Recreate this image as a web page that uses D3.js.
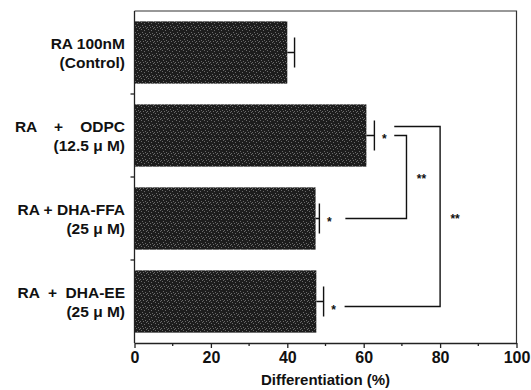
<!DOCTYPE html>
<meta charset="utf-8">
<html>
<head>
<script src="https://cdn.jsdelivr.net/npm/d3@7"></script>
<style>
body { margin:0; background:#fff; }
text { font-family:"Liberation Sans", Arial, Helvetica, sans-serif; font-weight:bold; fill:#111; }
.x-axis text { font-size:16px; }
.x-axis path, .x-axis line, .y-axis line { stroke:#222; stroke-width:1.3; }
.frame { fill:none; stroke:#333; stroke-width:1.2; }
.err, .bracket { fill:none; stroke:#111; stroke-width:1.4; }
.cat { font-size:15.5px; white-space:pre; }
.star { font-size:12px; }
</style>
</head>
<body>
<script>

// data
var groups = ["control", "odpc", "ffa", "ee"];
var line1 = ["RA 100nM", "RA    +    ODPC", "RA + DHA-FFA", "RA  +  DHA-EE"];
var line2 = ["(Control)", "(12.5 \u03bc M)", "(25 \u03bc M)", "(25 \u03bc M)"];
var means = [40.0, 60.7, 47.4, 47.6];
var errs = [1.9, 2.1, 1.0, 1.9];
var stars = ["", "*", "*", "*"];
var xTicks = [0, 20, 40, 60, 80, 100];
var xMinor = [10, 30, 50, 70, 90];

// significance brackets: top group, bottom group, bracket position and ends (%)
var brTop = ["odpc", "odpc"];
var brBottom = ["ffa", "ee"];
var brX = [71.2, 80];
var brTopStart = [68, 68];
var brBottomStart = [55.2, 55];
var brLabel = ["**", "**"];

var W = 531, H = 390;
var m = {top:11, right:14, bottom:47, left:134.5};

var svg = d3.select("body").append("svg")
    .attr("width", W)
    .attr("height", H);

var x = d3.scaleLinear()
    .domain([0, 100])
    .range([m.left, W - m.right - 0.5]);

var y = d3.scaleBand()
    .domain(groups)
    .range([m.top, H - m.bottom])
    .paddingInner(0.25)
    .paddingOuter(0.125);

// speckled fill for the bars
var pat = svg.append("defs").append("pattern")
    .attr("id", "speck")
    .attr("width", 7).attr("height", 7)
    .attr("patternUnits", "userSpaceOnUse");
pat.append("rect").attr("width", 7).attr("height", 7).attr("fill", "#1d1d1d");
[[1,1],[4,2],[2,4],[5,5],[0,6],[6,0],[3,6]].forEach(function(p) {
  pat.append("rect").attr("x", p[0]).attr("y", p[1])
    .attr("width", 1).attr("height", 1).attr("fill", "#6a6a6a");
});

// frame top and right
svg.append("path")
    .attr("class", "frame")
    .attr("d", `M${x(0)},${m.top}H${x(100)}V${H - m.bottom}`);

// bars
svg.selectAll(".bar")
    .data(groups)
    .enter().append("rect")
    .attr("class", "bar")
    .attr("x", x(0))
    .attr("y", d => y(d))
    .attr("width", (d, i) => x(means[i]) - x(0))
    .attr("height", y.bandwidth())
    .attr("fill", "url(#speck)");

// error bars
var capH = 30;
groups.forEach(function(g, i) {
  var cy = y(g) + y.bandwidth() / 2;
  var xe = x(means[i] + errs[i]);
  svg.append("path")
    .attr("class", "err")
    .attr("d", `M${x(means[i])},${cy}H${xe}M${xe},${cy - capH/2}V${cy + capH/2}`);
  if (stars[i]) {
    svg.append("text")
      .attr("class", "star")
      .attr("x", xe + 10)
      .attr("y", cy + 7 + (i == 3 ? 5 : 0))
      .attr("text-anchor", "middle")
      .text(stars[i]);
  }
});

// brackets
brX.forEach(function(bx, i) {
  var yt = y(brTop[i]) + y.bandwidth() / 2 - (i == 1 ? 9 : 0);
  var yb = y(brBottom[i]) + y.bandwidth() / 2 + (i == 1 ? 5 : 0);
  svg.append("path")
    .attr("class", "bracket")
    .attr("d", `M${x(brTopStart[i])},${yt}H${x(bx)}V${yb}H${x(brBottomStart[i])}`);
  svg.append("text")
    .attr("class", "star")
    .attr("x", x(bx) + 15)
    .attr("y", (yt + yb) / 2 + 6)
    .attr("text-anchor", "middle")
    .text(brLabel[i]);
});

// x axis
var xAxis = svg.append("g")
    .attr("class", "x-axis")
    .attr("transform", `translate(0, ${H - m.bottom})`)
    .call(d3.axisBottom(x)
      .tickValues(xTicks)
      .tickSize(5)
      .tickSizeOuter(0)
      .tickPadding(4));
xAxis.selectAll(".minor")
    .data(xMinor)
    .enter().append("line")
    .attr("class", "minor")
    .attr("x1", d => x(d)).attr("x2", d => x(d))
    .attr("y1", 0).attr("y2", 3);

svg.append("text")
    .attr("x", (x(0) + x(100)) / 2)
    .attr("y", H - 5)
    .attr("text-anchor", "middle")
    .style("font-size", "15px")
    .text("Differentiation (%)");

// y axis: line with ticks between the groups
var yAxis = svg.append("g").attr("class", "y-axis");
yAxis.append("line")
    .attr("x1", x(0)).attr("x2", x(0))
    .attr("y1", m.top).attr("y2", H - m.bottom);
var cuts = groups.slice(1).map(g => y(g) - y.step() * y.paddingInner() / 2);
yAxis.selectAll(".ytick")
    .data(cuts)
    .enter().append("line")
    .attr("x1", x(0) - 4).attr("x2", x(0))
    .attr("y1", d => d).attr("y2", d => d);

// category labels, two lines each
groups.forEach(function(g, i) {
  var cy = y(g) + y.bandwidth() / 2;
  var t = svg.append("text")
    .attr("class", "cat")
    .attr("text-anchor", "end");
  t.append("tspan").attr("x", 125).attr("y", cy - 4).text(line1[i]);
  t.append("tspan").attr("x", 125).attr("y", cy + 15).text(line2[i]);
});

</script>
</body>
</html>
